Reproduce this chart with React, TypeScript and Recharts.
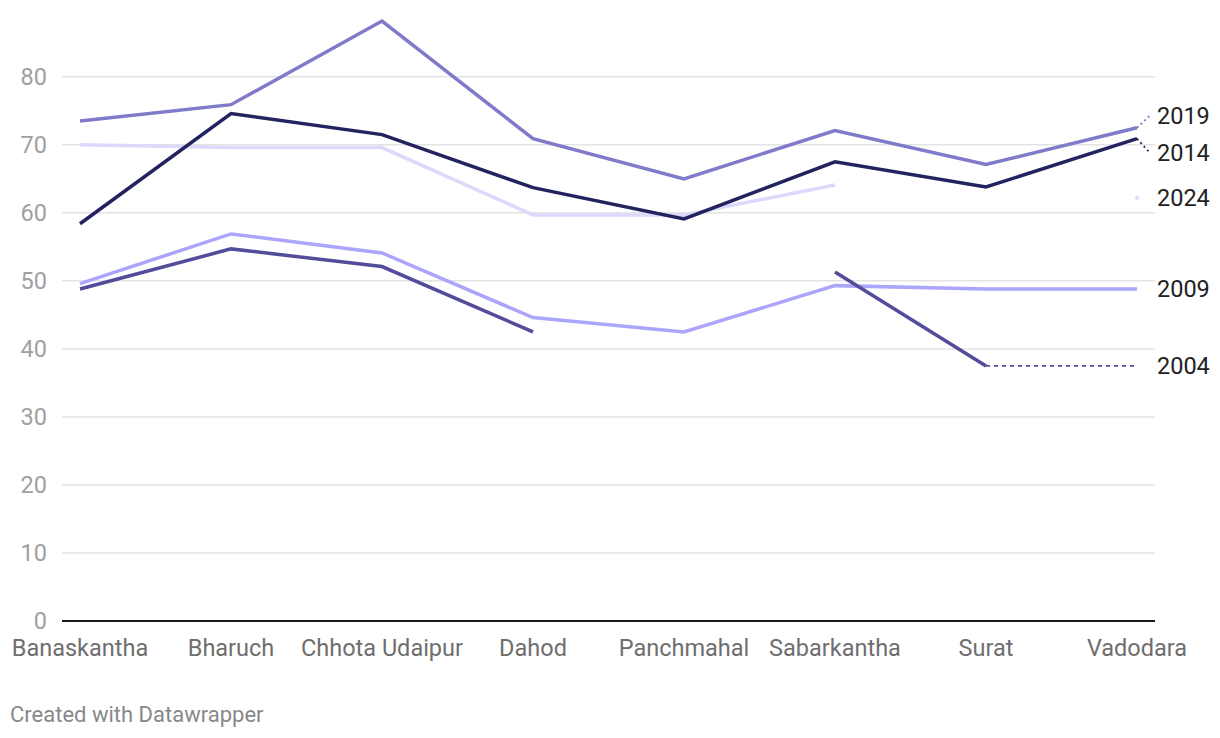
import React from "react";
import { LineChart, Line, XAxis, YAxis, CartesianGrid } from "recharts";

const categories = ["Banaskantha", "Bharuch", "Chhota Udaipur", "Dahod", "Panchmahal", "Sabarkantha", "Surat", "Vadodara"];
const v2019 = [73.5, 75.9, 88.2, 70.9, 65.0, 72.1, 67.1, 72.5];
const v2014 = [58.4, 74.6, 71.5, 63.7, 59.1, 67.5, 63.8, 70.9];
const v2024 = [70.0, 69.6, 69.6, 59.7, 59.7, 64.1, null, null];
const v2009 = [49.6, 56.9, 54.1, 44.6, 42.5, 49.3, 48.8, 48.8];
const v2004 = [48.8, 54.7, 52.1, 42.5, null, 51.3, 37.5, null];
// 2004 carried forward from Surat to the end (dotted)
const v2004ext = [null, null, null, null, null, null, 37.5, 37.5];
// where the end labels sit on the value scale
const labelPos = { "2019": 74.3, "2014": 68.8, "2024": 62.2, "2009": 48.8, "2004": 37.5 };
const v2024mark = [null, null, null, null, null, null, null, labelPos["2024"]];
const yTicks = [0, 10, 20, 30, 40, 50, 60, 70, 80];
const Y_MAX = 88.2;

const data = categories.map((c, i) => ({
  name: c,
  y2019: v2019[i],
  y2014: v2014[i],
  y2024: v2024[i],
  y2009: v2009[i],
  y2004: v2004[i],
  y2004ext: v2004ext[i],
  y2024mark: v2024mark[i],
}));

const W = 1220;
const H = 738;
const MARGIN = { top: 21, right: 65, bottom: 57, left: 0 };
const X_AXIS_H = 60;
const PLOT_H = H - MARGIN.top - MARGIN.bottom - X_AXIS_H;
const PX_PER_UNIT = PLOT_H / Y_MAX;

const endLabel = (name: string, color: string, lastIdx: number, lastValue: number, connector: boolean) => (props: any) => {
  const { x, y, index } = props;
  if (index !== lastIdx || x == null || y == null) return null;
  const ty = y - (labelPos[name] - lastValue) * PX_PER_UNIT;
  return (
    <g>
      {connector && Math.abs(ty - y) > 1 && (
        <line x1={x} y1={y} x2={x + 13} y2={ty} stroke={color} strokeWidth={1.8} strokeDasharray="2 3" />
      )}
      <text x={x + 20} y={ty} dy="0.35em" fontSize={23.5} fill="#222" textAnchor="start">
        {name}
      </text>
    </g>
  );
};

const App = () => {
  return (
    <div style={{ position: "absolute", left: 0, top: 0, width: W, height: H, background: "#fff", fontFamily: "Roboto, sans-serif" }}>
      <LineChart width={W} height={H} data={data} margin={MARGIN}>
        <CartesianGrid vertical={false} horizontalValues={yTicks} stroke="#e3e3e3" strokeWidth={1.5} />
        <XAxis
          dataKey="name"
          interval={0}
          padding={{ left: 18, right: 18 }}
          height={X_AXIS_H}
          tickLine={false}
          tickSize={0}
          tickMargin={18}
          axisLine={{ stroke: "#1a1a1a", strokeWidth: 2 }}
          tick={{ fill: "#6e6e6e", fontSize: 23.5 }}
        />
        <YAxis
          width={62}
          domain={[0, Y_MAX]}
          ticks={yTicks}
          axisLine={false}
          tickLine={false}
          tickSize={0}
          tickMargin={15}
          tick={{ fill: "#a0a0a0", fontSize: 23.5 }}
        />
        <Line dataKey="y2024" stroke="#ddd8fc" strokeWidth={3.5} dot={false} isAnimationActive={false} />
        <Line
          dataKey="y2024mark"
          stroke="#ddd8fc"
          strokeWidth={3}
          dot={{ r: 2, fill: "#ddd8fc", stroke: "none" }}
          isAnimationActive={false}
          label={endLabel("2024", "#ddd8fc", 7, labelPos["2024"], false)}
        />
        <Line
          dataKey="y2009"
          stroke="#aba5fb"
          strokeWidth={3.5}
          dot={false}
          isAnimationActive={false}
          label={endLabel("2009", "#aba5fb", 7, v2009[7], true)}
        />
        <Line dataKey="y2004" stroke="#524c9a" strokeWidth={3.5} dot={false} isAnimationActive={false} />
        <Line
          dataKey="y2004ext"
          stroke="#524c9a"
          strokeWidth={1.8}
          strokeDasharray="4 4"
          dot={false}
          isAnimationActive={false}
          label={endLabel("2004", "#524c9a", 7, v2004ext[7] as number, false)}
        />
        <Line
          dataKey="y2019"
          stroke="#807aca"
          strokeWidth={3.5}
          dot={false}
          isAnimationActive={false}
          label={endLabel("2019", "#807aca", 7, v2019[7], true)}
        />
        <Line
          dataKey="y2014"
          stroke="#22235f"
          strokeWidth={3.5}
          dot={false}
          isAnimationActive={false}
          label={endLabel("2014", "#22235f", 7, v2014[7], true)}
        />
      </LineChart>
      <div style={{ position: "absolute", left: 10, top: 702, fontSize: 22, color: "#888" }}>Created with Datawrapper</div>
    </div>
  );
};

export default App;
